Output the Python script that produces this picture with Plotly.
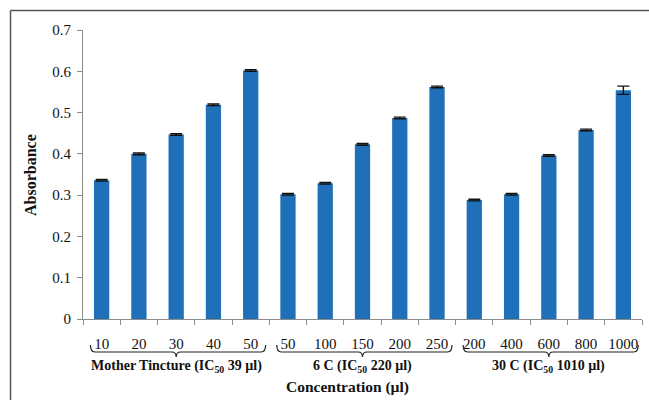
import plotly.graph_objects as go

# ---- data ----
tick_labels = ["10", "20", "30", "40", "50",
               "50", "100", "150", "200", "250",
               "200", "400", "600", "800", "1000"]
absorbance = [0.336, 0.400, 0.447, 0.519, 0.602,
              0.302, 0.329, 0.423, 0.487, 0.562,
              0.288, 0.302, 0.396, 0.458, 0.554]
errors = [0.002, 0.002, 0.002, 0.002, 0.002,
          0.002, 0.002, 0.002, 0.002, 0.002,
          0.002, 0.002, 0.002, 0.002, 0.010]
group_labels = ["Mother Tincture (IC<sub>50</sub> 39 µl)",
                "6 C (IC<sub>50</sub> 220 µl)",
                "30 C (IC<sub>50</sub> 1010 µl)"]
group_size = 5
y_ticks = [0, 0.1, 0.2, 0.3, 0.4, 0.5, 0.6, 0.7]
y_tick_text = ["0", "0.1", "0.2", "0.3", "0.4", "0.5", "0.6", "0.7"]

# ---- layout constants (pixels) ----
W, H = 649, 400
ML, MR, MT, MB = 83, 7, 30, 81
PW, PH = W - ML - MR, H - MT - MB
SERIF = "Liberation Serif, Times New Roman, serif"
AXIS_GRAY = "#8c8c8c"

def py(p):  # pixel y -> paper y
    return (H - MB - p) / PH

def px(p):  # pixel x -> paper x
    return (p - ML) / PW

xs = list(range(len(absorbance)))

fig = go.Figure()
fig.add_trace(go.Bar(
    x=xs, y=absorbance, width=0.41,
    marker=dict(color="#1F70B8", line=dict(width=0)),
    error_y=dict(type="data", array=errors, visible=True,
                 color="#111111", thickness=1.4, width=6),
))

shapes = []
annotations = []
y_top, y_line, y_tip = py(345), py(352), py(357)
n_groups = len(group_labels)
for g in range(n_groups):
    first = g * group_size
    last = first + group_size - 1
    x0 = first - 0.3
    x1 = min(last + 0.4, len(xs) - 0.55)
    xc = (first + last) / 2
    d = 0.12
    path = (f"M {x0},{y_top} Q {x0},{y_line} {x0 + d},{y_line} "
            f"L {xc - d},{y_line} Q {xc},{y_line} {xc},{y_tip} "
            f"Q {xc},{y_line} {xc + d},{y_line} "
            f"L {x1 - d},{y_line} Q {x1},{y_line} {x1},{y_top}")
    shapes.append(dict(type="path", path=path, xref="x", yref="paper",
                       line=dict(color="#222222", width=1.2)))
    annotations.append(dict(
        x=xc, y=py(367), xref="x", yref="paper", text=f"<b>{group_labels[g]}</b>",
        showarrow=False, font=dict(family=SERIF, size=14, color="#111111"),
        xanchor="center", yanchor="middle"))

annotations.append(dict(
    x=px(347), y=py(387), xref="paper", yref="paper", text="<b>Concentration (µl)</b>",
    showarrow=False, font=dict(family=SERIF, size=15.5, color="#111111"),
    xanchor="center", yanchor="middle"))
annotations.append(dict(
    x=px(30), y=py(175), xref="paper", yref="paper", text="<b>Absorbance</b>",
    showarrow=False, textangle=-90, font=dict(family=SERIF, size=16, color="#111111"),
    xanchor="center", yanchor="middle"))

# outer frame (top and left edges)
shapes.append(dict(type="line", xref="paper", yref="paper",
                   x0=px(10.5), x1=px(W + 2), y0=py(10.5), y1=py(10.5),
                   line=dict(color="#555555", width=1.5)))
shapes.append(dict(type="line", xref="paper", yref="paper",
                   x0=px(10.5), x1=px(10.5), y0=py(10.5), y1=py(H + 2),
                   line=dict(color="#555555", width=1.5)))

fig.update_layout(
    width=W, height=H,
    margin=dict(l=ML, r=MR, t=MT, b=MB),
    paper_bgcolor="white", plot_bgcolor="white",
    showlegend=False,
    shapes=shapes, annotations=annotations,
    font=dict(family=SERIF, color="#111111"),
    xaxis=dict(
        range=[-0.5, len(xs) - 0.5],
        tickmode="array", tickvals=xs, ticktext=tick_labels,
        ticks="", showgrid=False, zeroline=False,
        showline=True, linecolor=AXIS_GRAY, linewidth=1,
        tickfont=dict(family=SERIF, size=15, color="#111111"),
        ticklabelstandoff=11,
        minor=dict(tickmode="array", tickvals=[i - 0.5 for i in range(len(xs) + 1)],
                   ticks="outside", ticklen=5, tickcolor=AXIS_GRAY, tickwidth=1,
                   showgrid=False),
    ),
    yaxis=dict(
        range=[0, 0.7], tickmode="array", tickvals=y_ticks, ticktext=y_tick_text,
        ticks="outside", ticklen=5, tickcolor=AXIS_GRAY, tickwidth=1,
        showgrid=False, zeroline=False,
        showline=True, linecolor=AXIS_GRAY, linewidth=1,
        tickfont=dict(family=SERIF, size=15, color="#111111"),
        ticklabelstandoff=3,
    ),
)

fig.write_html("out.html", config={"displayModeBar": False},
               post_script="document.body.style.margin='0';")
